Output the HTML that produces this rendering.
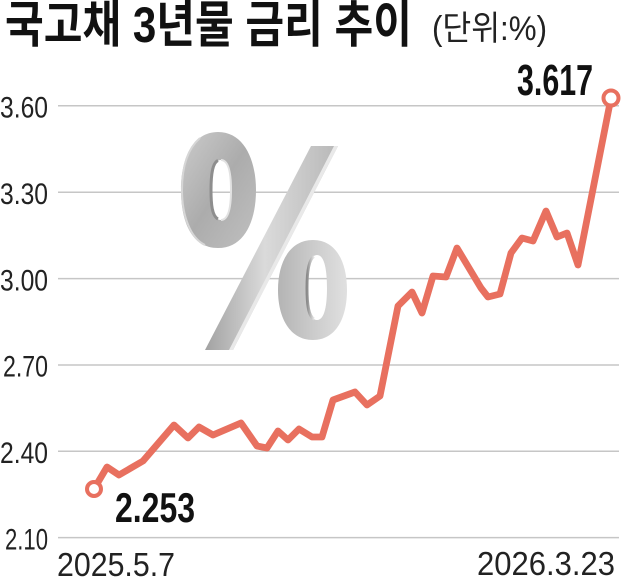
<!DOCTYPE html>
<html><head><meta charset="utf-8">
<style>
html,body{margin:0;padding:0;background:#fff;}
svg{display:block;}
text{font-family:"Liberation Sans","Noto Sans CJK KR",sans-serif;}
</style></head>
<body>
<svg width="622" height="583" viewBox="0 0 622 583" xmlns="http://www.w3.org/2000/svg">
<defs>
<linearGradient id="g0" x1="0" y1="0" x2="1" y2="1">
<stop offset="0" stop-color="#cbcbcb"/>
<stop offset="0.5" stop-color="#acacac"/>
<stop offset="1" stop-color="#c0c0c0"/>
</linearGradient>
<linearGradient id="g1" x1="0" y1="0" x2="1" y2="0">
<stop offset="0" stop-color="#b4b4b4"/>
<stop offset="0.5" stop-color="#cbcbcb"/>
<stop offset="1" stop-color="#e0e0e0"/>
</linearGradient>
<linearGradient id="gs" x1="0" y1="0" x2="1" y2="0">
<stop offset="0" stop-color="#a2a2a2"/>
<stop offset="0.45" stop-color="#dadada"/>
<stop offset="1" stop-color="#b8b8b8"/>
</linearGradient>
<linearGradient id="gh" x1="0" y1="0" x2="1" y2="0">
<stop offset="0" stop-color="#8a8a8a"/>
<stop offset="1" stop-color="#e6e6e6"/>
</linearGradient>
</defs>

<!-- title -->
<text x="5" y="42" font-size="50" font-weight="700" fill="#111" textLength="407" lengthAdjust="spacingAndGlyphs">국고채 3년물 금리 추이</text>
<text x="432" y="40" font-size="34" fill="#222" textLength="115" lengthAdjust="spacingAndGlyphs">(단위:%)</text>

<!-- gridlines -->
<g stroke="#c6c6c6" stroke-width="1.5">
<line x1="58" y1="105.7" x2="619" y2="105.7"/>
<line x1="58" y1="192.2" x2="619" y2="192.2"/>
<line x1="58" y1="278.6" x2="619" y2="278.6"/>
<line x1="58" y1="365" x2="619" y2="365"/>
<line x1="58" y1="451.3" x2="619" y2="451.3"/>
<line x1="58" y1="537.6" x2="619" y2="537.6"/>
</g>

<!-- y labels -->
<g font-size="30" fill="#222">
<text x="0" y="117.5" textLength="48" lengthAdjust="spacingAndGlyphs">3.60</text>
<text x="0" y="204" textLength="48" lengthAdjust="spacingAndGlyphs">3.30</text>
<text x="0" y="290.3" textLength="48" lengthAdjust="spacingAndGlyphs">3.00</text>
<text x="3" y="376.7" textLength="45" lengthAdjust="spacingAndGlyphs">2.70</text>
<text x="0" y="463" textLength="48" lengthAdjust="spacingAndGlyphs">2.40</text>
<text x="5" y="549.3" textLength="43" lengthAdjust="spacingAndGlyphs">2.10</text>
</g>

<!-- percent sign -->
<g>
<path fill-rule="evenodd" fill="url(#g0)" d="M218,132 C244,132 256,160 256,190 C256,222 244,248 218,248 C192,248 181,222 181,190 C181,160 192,132 218,132 Z M221,160 C213,160 211,175 211,190 C211,206 213,220 221,220 C229,220 231,206 231,190 C231,175 229,160 221,160 Z"/>
<path fill="none" stroke="#e2e2e2" stroke-width="2" d="M221,160 C229,160 231,175 231,190 C231,206 229,220 221,220"/>
<path fill="none" stroke="#8e8e8e" stroke-width="3" d="M218,160.5 C212,163 211,177 211,190 C211,204 212,216 218,219"/>
<path fill="none" stroke="#d6d6d6" stroke-width="2" d="M200,138 C186,150 182,170 182,190 C182,215 190,238 205,245"/>
<polygon fill="url(#gs)" points="311,146 338,146 233,350 205,350"/>
<polygon fill="#e9e9e9" points="334,146 338,146 233,350 229,350"/>
<path fill-rule="evenodd" fill="url(#g1)" d="M313,240 C336,240 347,262 347,290 C347,318 336,340 313,340 C290,340 278,318 278,290 C278,262 290,240 313,240 Z M317,255 C309,255 307,272 307,288 C307,304 309,320 317,320 C325,320 327,304 327,288 C327,272 325,255 317,255 Z"/>
<path fill="none" stroke="url(#gh)" stroke-width="3" d="M314,256.5 C308,260 307,275 307,288 C307,302 308,316 314,319"/>
</g>

<!-- data line -->
<polyline fill="none" stroke="#e8705f" stroke-width="6.8" stroke-linejoin="round" stroke-linecap="round"
points="94,489 107,467 119,475 143,461 174,425 188,438 199,427 213,435 241,423 257,446 267,448 278,431 288,440 299,429 312,437 322,437 333,400 355,392 367,405 380,396 398,306 412,292 422,313 433,276 446,277 457,248 481,288 488,297 500,294 511,253 522,238 533,241 546,211 557,237 567,233 578,265 611,98"/>
<circle cx="94" cy="489" r="7" fill="#fff" stroke="#e8705f" stroke-width="4"/>
<circle cx="611" cy="98" r="7.5" fill="#fff" stroke="#e8705f" stroke-width="4"/>

<!-- value labels -->
<text x="517" y="95" font-size="44" font-weight="700" fill="#111" textLength="76" lengthAdjust="spacingAndGlyphs">3.617</text>
<text x="115" y="522" font-size="42" font-weight="700" fill="#111" textLength="80" lengthAdjust="spacingAndGlyphs">2.253</text>

<!-- x labels -->
<text x="57" y="576" font-size="33" fill="#222" textLength="118" lengthAdjust="spacingAndGlyphs">2025.5.7</text>
<text x="477" y="575" font-size="33" fill="#222" textLength="138" lengthAdjust="spacingAndGlyphs">2026.3.23</text>
</svg>
</body></html>
